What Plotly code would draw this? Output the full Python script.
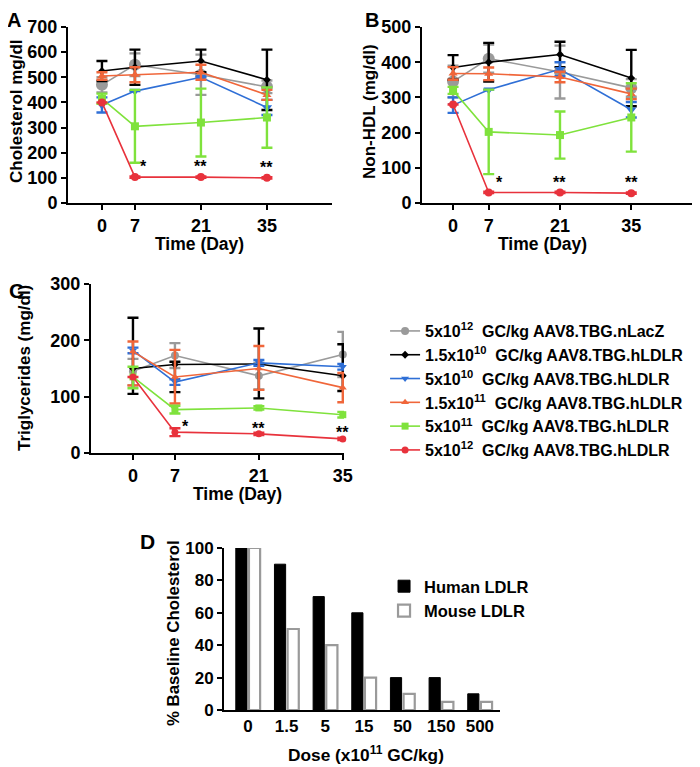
import plotly.graph_objects as go

FONT = "Liberation Sans, Arial, sans-serif"

days = [0, 7, 21, 35]
series_names = [
    "5x10<sup>12</sup>  GC/kg AAV8.TBG.nLacZ",
    "1.5x10<sup>10</sup>  GC/kg AAV8.TBG.hLDLR",
    "5x10<sup>10</sup>  GC/kg AAV8.TBG.hLDLR",
    "1.5x10<sup>11</sup>  GC/kg AAV8.TBG.hLDLR",
    "5x10<sup>11</sup>  GC/kg AAV8.TBG.hLDLR",
    "5x10<sup>12</sup>  GC/kg AAV8.TBG.hLDLR",
]
colors = ["#9a9a9a", "#000000", "#2f6fd6", "#f0663a", "#7fe23c", "#e8323c"]
symbols = ["circle", "diamond", "triangle-down", "triangle-up", "square", "circle"]

# Panel A: total cholesterol (mg/dl)
chol = [
    [470, 550, 510, 462],
    [525, 540, 565, 490],
    [390, 445, 500, 380],
    [505, 510, 520, 430],
    [415, 305, 320, 340],
    [400, 103, 103, 100],
]
chol_err = [
    [30, 45, 80, 25],
    [40, 70, 45, 120],
    [30, 0, 0, 30],
    [15, 30, 30, 20],
    [20, 145, 135, 120],
    [0, 3, 3, 3],
]

# Panel B: non-HDL (mg/dl)
nonhdl = [
    [345, 410, 372, 327],
    [385, 400, 422, 355],
    [278, 322, 380, 265],
    [368, 367, 358, 310],
    [320, 202, 193, 243],
    [280, 30, 30, 28],
]
nonhdl_err = [
    [45, 40, 75, 25],
    [35, 55, 36, 80],
    [22, 0, 20, 22],
    [18, 18, 15, 15],
    [10, 120, 67, 97],
    [0, 2, 2, 2],
]

# Panel C: triglycerides (mg/dl)
tg = [
    [145, 173, 137, 175],
    [150, 157, 158, 137],
    [182, 126, 160, 153],
    [180, 135, 150, 116],
    [135, 77, 80, 68],
    [135, 37, 34, 25],
]
tg_err_plus = [
    [22, 22, 23, 40],
    [90, 5, 63, 56],
    [5, 5, 5, 5],
    [18, 48, 40, 26],
    [18, 7, 3, 5],
    [0, 7, 2, 2],
]
tg_err_minus = [
    [25, 22, 24, 40],
    [45, 49, 61, 27],
    [5, 5, 5, 5],
    [60, 47, 38, 26],
    [20, 7, 3, 5],
    [0, 7, 2, 2],
]

# Panel D: % baseline cholesterol
dose_labels = ["0", "1.5", "5", "15", "50", "150", "500"]
human_ldlr = [100, 90, 70, 60, 20, 20, 10]
mouse_ldlr = [100, 50, 40, 20, 10, 5, 5]

# the page has an 8px body margin; size the figure so it fills the 700x767 window
OFF = 8
W, H = 700 - OFF, 767 - OFF

def dx(a, b):
    return [(a - OFF) / W, (b - OFF) / W]

def dy(top, bottom):
    return [1 - (bottom - OFF) / H, 1 - (top - OFF) / H]

fig = go.Figure()

sizes_ab = [12, 6, 9, 8, 8, 8]
sizes_c = [8, 6, 7, 7, 7, 7]

def add_panel(yvals, eplus, eminus, xa, ya, sizes, showleg):
    for i in range(6):
        fig.add_trace(go.Scatter(
            x=days, y=yvals[i], mode="lines+markers",
            name=series_names[i],
            line=dict(color=colors[i], width=1.6),
            marker=dict(color=colors[i], symbol=symbols[i], size=sizes[i]),
            error_y=dict(type="data", array=eplus[i], arrayminus=eminus[i],
                         symmetric=False, color=colors[i], thickness=2.4, width=5.5),
            xaxis=xa, yaxis=ya, showlegend=showleg, cliponaxis=False,
        ))

add_panel(chol, chol_err, chol_err, "x", "y", sizes_ab, False)
add_panel(nonhdl, nonhdl_err, nonhdl_err, "x2", "y2", sizes_ab, False)
add_panel(tg, tg_err_plus, tg_err_minus, "x3", "y3", sizes_c, True)

fig.add_trace(go.Bar(x=dose_labels, y=human_ldlr, name="Human LDLR",
                     marker=dict(color="black", line=dict(color="black", width=1)),
                     xaxis="x4", yaxis="y4", legend="legend2"))
fig.add_trace(go.Bar(x=dose_labels, y=mouse_ldlr, name="Mouse LDLR",
                     marker=dict(color="white", line=dict(color="#9a9a9a", width=2.2)),
                     xaxis="x4", yaxis="y4", legend="legend2"))

tickfont = dict(family=FONT, size=18, color="black", weight="bold")
axis_common = dict(showline=True, linecolor="black", linewidth=2, ticks="outside",
                   ticklen=5, tickwidth=2, tickcolor="black", showgrid=False,
                   zeroline=False, tickfont=tickfont, fixedrange=True,
                   automargin=False)

def xax(domain, rng, anchor):
    return dict(axis_common, domain=domain, range=rng, anchor=anchor,
                tickvals=days, ticktext=[str(d) for d in days])

def yax(domain, rng, dtick, anchor, fs=18):
    return dict(axis_common, domain=domain, range=rng, dtick=dtick, anchor=anchor,
                tickfont=dict(tickfont, size=fs))

yA = dy(27, 203)
fig.update_layout(
    width=W, height=H,
    margin=dict(l=0, r=0, t=0, b=0, autoexpand=False),
    paper_bgcolor="white", plot_bgcolor="white",
    font=dict(family=FONT, color="black"),
    xaxis=xax(dx(68, 332), [-7.2, 48.8], "y"),
    yaxis=yax(yA, [0, 700], 100, "x"),
    xaxis2=xax(dx(422, 699), [-6.1, 48.3], "y2"),
    yaxis2=yax(yA, [0, 500], 100, "x2"),
    xaxis3=xax(dx(91, 344), [-7, 35.2], "y3"),
    yaxis3=yax(dy(284, 453), [0, 300], 100, "x3"),
    xaxis4=dict(axis_common, domain=dx(224, 500), range=[-0.62, 6.52],
                anchor="y4", type="category", ticks="",
                tickfont=dict(tickfont, size=17)),
    yaxis4=yax(dy(548, 710), [0, 100], 20, "x4", 17),
    barmode="group", bargap=0.32, bargroupgap=0.15,
    legend=dict(x=0.5449, y=0.5968, xanchor="left", yanchor="top",
                font=dict(family=FONT, size=16, color="black", weight="bold"),
                tracegroupgap=0, itemwidth=30, bgcolor="rgba(0,0,0,0)"),
    legend2=dict(x=0.5434, y=0.2609, xanchor="left", yanchor="top",
                 font=dict(family=FONT, size=16.5, color="black", weight="bold"),
                 tracegroupgap=0, bgcolor="rgba(0,0,0,0)"),
)

ann = []
def txt(text, x, y, size=16, angle=0, xref="paper", yref="paper",
        xanchor="center", yanchor="middle"):
    ann.append(dict(text=text, x=x, y=y, xref=xref, yref=yref, showarrow=False,
                    textangle=angle, xanchor=xanchor, yanchor=yanchor, borderpad=0,
                    font=dict(family=FONT, size=size, color="black", weight="bold")))

def px(x, y, text, size=16, angle=0):
    txt(text, (x - OFF) / W, 1 - (y - OFF) / H, size, angle)

# panel letters (A and B pinned to the top edge so they are not clipped)
txt("A", (14 - OFF) / W, 1, 20, yanchor="top")
txt("B", (372 - OFF) / W, 1, 20, yanchor="top")
px(16, 291, "C", 21)
px(147, 541, "D", 21)
# axis titles
px(17, 111, "Cholesterol mg/dl", 17, -90)
px(200, 244, "Time (Day)", 17.5)
px(369, 112, "Non-HDL (mg/dl)", 17, -90)
px(542, 244, "Time (Day)", 17.5)
px(25, 368, "Triglycerides (mg/dl)", 17, -90)
px(238, 494, "Time (Day)", 17.5)
px(173, 633, "% Baseline Cholesterol", 16.8, -90)
px(366, 754, "Dose (x10<sup>11</sup> GC/kg)", 17.3)

# significance markers
stars = [
    ("x", "y", [(8.8, 145, "*"), (21, 145, "**"), (35, 140, "**")]),
    ("x2", "y2", [(9.2, 57, "*"), (21, 57, "**"), (35, 57, "**")]),
    ("x3", "y3", [(8.7, 47, "*"), (21, 44, "**"), (35, 36, "**"), (36.7, 74, "*")]),
]
for xr, yr, lst in stars:
    for sx, sy, s in lst:
        txt(s, sx, sy, 16, 0, xr, yr)

fig.update_layout(annotations=ann)
fig.write_html("out.html")
